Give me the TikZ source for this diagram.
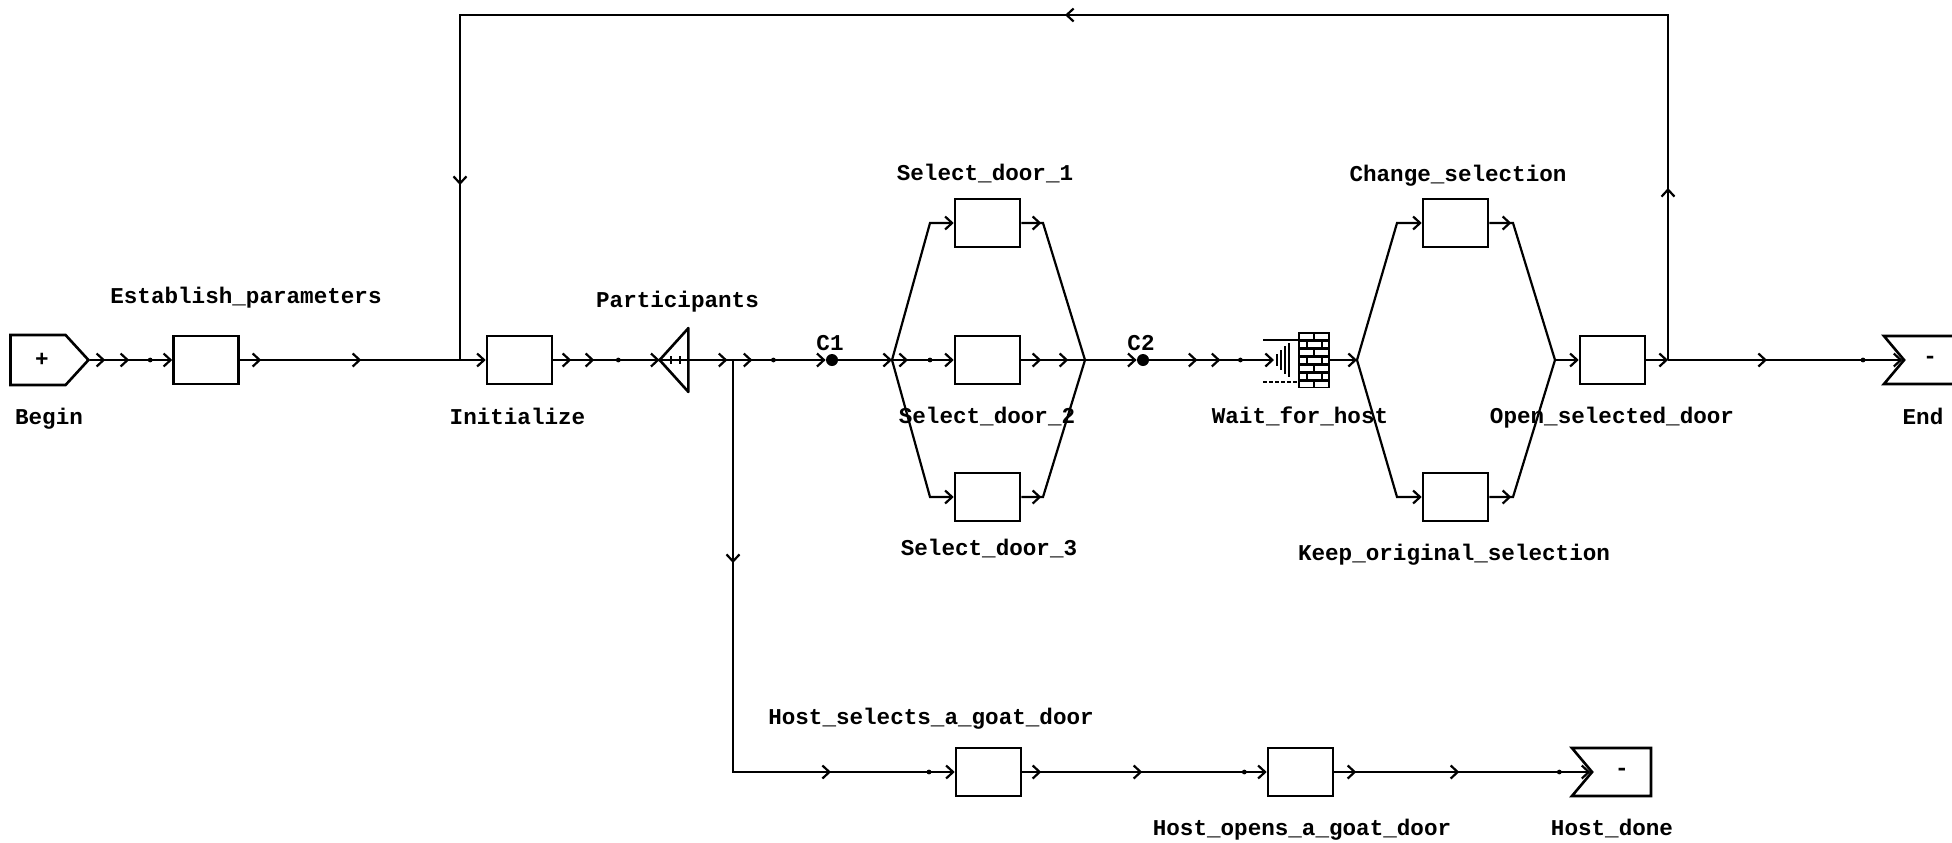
\documentclass[tikz,border=0pt]{standalone}
\usepackage{fontspec}
\newfontfamily\lbfamily{Liberation Mono}
\usetikzlibrary{arrows.meta,decorations.markings,shapes.symbols}
\newcommand\lbfont{\lbfamily\bfseries\fontsize{11.3}{13}\selectfont}
\tikzset{
  box/.style={draw, line width=1.3pt, minimum width=32.5pt, minimum height=24pt, inner sep=0pt},
  term/.style={draw, line width=1.3pt, shape=signal, minimum width=39.5pt, minimum height=24pt, inner sep=0pt, signal pointer angle=100},
  lbl/.style={font=\lbfont, anchor=base, inner sep=0pt},
  sym/.style={font=\lbfont, anchor=center, inner sep=0pt},
  wire/.style={line width=1.1pt},
  conn/.style={wire, -{Straight Barb[length=3.5pt,width=6.5pt]}},
  chv/.style={postaction={decorate,decoration={markings,mark=at position #1 with {\arrow{Straight Barb[length=3.5pt,width=6.5pt]}}}}},
  dt/.style={postaction={decorate,decoration={markings,mark=at position #1 with {\fill (0,0) circle (1.2pt);}}}},
  jdot/.style={circle, fill, minimum size=6pt, inner sep=0pt},
}
\begin{document}
\begin{tikzpicture}[x=0.5pt,y=-0.5pt]
\fill[white] (0,0) rectangle (1952,842);
\useasboundingbox (0,0) rectangle (1952,842);

% terminals
\node[term, signal to=east, signal pointer angle=95, minimum width=39pt, minimum height=25pt] (begin) at (38,360) {};
\node[term, signal from=west, signal to=nowhere] (end) at (1933.5,360) {};
\node[term, signal from=west, signal to=nowhere] (hd) at (1621.5,772) {};
\node[sym] (beginsym) at (42,360) {+};
\node[sym] (endsym) at (1930,360) {-};
\node[sym] (hdsym) at (1622,772) {-};

% boxes
\node[box] (est) at (206,360) {};
\node[box] (init) at (519.5,360) {};
\node[box] (sd1) at (987.5,223) {};
\node[box] (sd2) at (987.5,360) {};
\node[box] (sd3) at (987.5,497) {};
\node[box] (chg) at (1455.5,223) {};
\node[box] (keep) at (1455.5,497) {};
\node[box] (open) at (1612.5,360) {};
\node[box] (hs) at (988.5,772) {};
\node[box] (ho) at (1300.5,772) {};

% participants triangle
\node[minimum width=14pt, minimum height=31.5pt, inner sep=0pt] (part) at (674,360) {};
\draw[line width=1.3pt, line join=round] (part.west) -- (part.north east) -- (part.south east) -- cycle;
\draw[wire] (part.west) -- (part.east);
\draw[line width=0.8pt] (671,356) -- (671,364) (680,356) -- (680,364);

% C1, C2
\node[jdot] (c1) at (832,360) {};
\node[jdot] (c2) at (1143,360) {};

% wait for host
\node[fill=black, minimum width=16pt, minimum height=28pt, inner sep=0pt] (wait) at (1314,360) {};
\foreach \r in {0,2,4,6} {
  \fill[white] (1300,{334+8*\r}) rectangle (1313,{339+8*\r});
  \fill[white] (1315,{334+8*\r}) rectangle (1328,{339+8*\r});
}
\foreach \r in {1,3,5} {
  \fill[white] (1300,{334+8*\r}) rectangle (1306,{339+8*\r});
  \fill[white] (1308,{334+8*\r}) rectangle (1321,{339+8*\r});
  \fill[white] (1323,{334+8*\r}) rectangle (1328,{339+8*\r});
}
\draw[wire] (1263,340) -- (1298,340);
\draw[wire, dash pattern=on 2pt off 1pt] (1263,382) -- (1298,382);
\draw[line width=0.8pt] (1277,354) -- (1277,366) (1281,350) -- (1281,370) (1285,346) -- (1285,374) (1289,343) -- (1289,377);
\coordinate (waitin) at (1274,360);

% junction coordinates
\coordinate (j0) at (460,360);
\coordinate (b1) at (733,360);
\coordinate (f1) at (892,360);
\coordinate (g1) at (1085,360);
\coordinate (f2) at (1357,360);
\coordinate (g2) at (1555,360);
\coordinate (j1) at (1668,360);
\coordinate (tr) at (1668,15);
\coordinate (tl) at (460,15);
\coordinate (bc) at (733,772);

% connectors
\draw[conn, chv=7.5pt, chv=19.5pt, dt=30pt] (begin.east) -- (est.west);
\draw[conn, chv=10.75pt, chv=60.75pt] (est.east) -- (init.west);
\draw[wire, chv=86pt, chv=474pt, chv=861.5pt] (j1) -- (tr) -- (tl) -- (j0);
\draw[conn, chv=9pt, chv=20.5pt, dt=32.5pt] (init.east) -- (part.west);
\draw[conn, chv=19.5pt, chv=32pt, dt=42.5pt] (part.east) -- (c1.west);
\draw[conn, chv=101.5pt, chv=255pt, dt=304pt] (b1) -- (bc) -- (hs.west);
\draw[conn] (c1.east) -- (f1);
\draw[conn] (f1) -- (930,223) -- (sd1.west);
\draw[conn, chv=8pt, dt=19pt] (f1) -- (sd2.west);
\draw[conn] (f1) -- (930,497) -- (sd3.west);
\draw[wire, chv=10pt] (sd1.east) -- (1043,223) -- (g1);
\draw[wire, chv=10pt, chv=23.5pt] (sd2.east) -- (g1);
\draw[wire, chv=10pt] (sd3.east) -- (1043,497) -- (g1);
\draw[conn] (g1) -- (c2.west);
\draw[conn, chv=24pt, chv=35.5pt, dt=45.5pt] (c2.east) -- (waitin);
\draw[conn] (wait.east) -- (f2);
\draw[conn] (f2) -- (1397,223) -- (chg.west);
\draw[conn] (f2) -- (1397,497) -- (keep.west);
\draw[wire, chv=11pt] (chg.east) -- (1513,223) -- (g2);
\draw[wire, chv=11pt] (keep.east) -- (1513,497) -- (g2);
\draw[conn] (g2) -- (open.west);
\draw[conn] (open.east) -- (j1);
\draw[conn, chv=49.5pt, dt=97.5pt] (j1) -- (end.west);
\draw[conn, chv=9.5pt, chv=60pt, dt=111pt] (hs.east) -- (ho.west);
\draw[conn, chv=11pt, chv=62.5pt, dt=112.5pt] (ho.east) -- (hd.west);

% labels
\node[lbl] (l-est) at (246,303) {Establish\_parameters};
\node[lbl] (l-begin) at (49,424) {Begin};
\node[lbl] (l-init) at (517.5,424) {Initialize};
\node[lbl] (l-part) at (677.5,307) {Participants};
\node[lbl] (l-c1) at (830,350) {C1};
\node[lbl] (l-c2) at (1141,350) {C2};
\node[lbl] (l-sd1) at (985,180) {Select\_door\_1};
\node[lbl] (l-sd2) at (987,423) {Select\_door\_2};
\node[lbl] (l-sd3) at (989,555) {Select\_door\_3};
\node[lbl] (l-wait) at (1300,423) {Wait\_for\_host};
\node[lbl] (l-chg) at (1458,181) {Change\_selection};
\node[lbl] (l-open) at (1612,423) {Open\_selected\_door};
\node[lbl] (l-keep) at (1454,560) {Keep\_original\_selection};
\node[lbl] (l-end) at (1923,424) {End};
\node[lbl] (l-hs) at (931,724) {Host\_selects\_a\_goat\_door};
\node[lbl] (l-ho) at (1302,835) {Host\_opens\_a\_goat\_door};
\node[lbl] (l-hd) at (1612,835) {Host\_done};
\end{tikzpicture}
\end{document}
